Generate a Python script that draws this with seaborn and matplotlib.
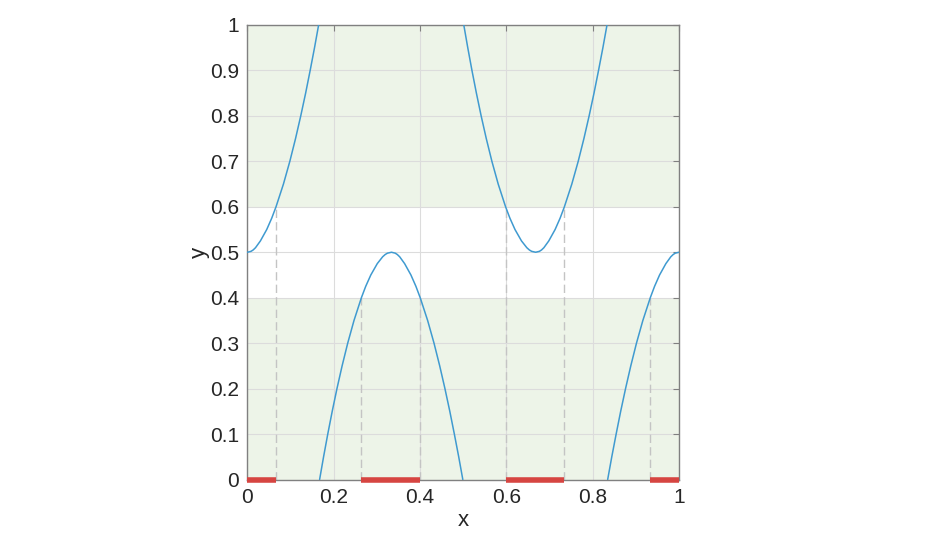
import numpy as np
import pandas as pd
import matplotlib
matplotlib.use("Agg")
import matplotlib.pyplot as plt
import seaborn as sns

# Curve values, one list per branch
seg1_x = [0.0, 0.0086, 0.0135, 0.0190, 0.0304, 0.0450, 0.0566, 0.0665, 0.0837, 0.0985,
          0.1117, 0.1238, 0.1351, 0.1456, 0.1557, 0.1652]
seg1_y = [0.5, 0.502, 0.505, 0.51, 0.525, 0.55, 0.575, 0.6, 0.65, 0.7,
          0.75, 0.8, 0.85, 0.9, 0.95, 1.0]
seg2_x = [0.1675, 0.1767, 0.1864, 0.1967, 0.2077, 0.2196, 0.2326, 0.2472, 0.2643, 0.2743,
          0.2861, 0.3011, 0.3135, 0.3194, 0.3247, 0.334,
          0.3426, 0.3475, 0.3530, 0.3644, 0.3790, 0.3906, 0.4005, 0.4177, 0.4325, 0.4457,
          0.4578, 0.4691, 0.4796, 0.4897, 0.4992]
seg2_y = [0.0, 0.05, 0.1, 0.15, 0.2, 0.25, 0.3, 0.35, 0.4, 0.425,
          0.45, 0.475, 0.49, 0.495, 0.498, 0.5,
          0.498, 0.495, 0.49, 0.475, 0.45, 0.425, 0.4, 0.35, 0.3, 0.25,
          0.2, 0.15, 0.1, 0.05, 0.0]
seg3_x = [0.5015, 0.5107, 0.5204, 0.5307, 0.5417, 0.5536, 0.5666, 0.5812, 0.5983, 0.6083,
          0.6201, 0.6351, 0.6475, 0.6534, 0.6587, 0.668,
          0.6766, 0.6815, 0.6870, 0.6984, 0.7130, 0.7246, 0.7345, 0.7517, 0.7665, 0.7797,
          0.7918, 0.8031, 0.8136, 0.8237, 0.8332]
seg3_y = [1.0, 0.95, 0.9, 0.85, 0.8, 0.75, 0.7, 0.65, 0.6, 0.575,
          0.55, 0.525, 0.51, 0.505, 0.502, 0.5,
          0.502, 0.505, 0.51, 0.525, 0.55, 0.575, 0.6, 0.65, 0.7, 0.75,
          0.8, 0.85, 0.9, 0.95, 1.0]
seg4_x = [0.8348, 0.8443, 0.8544, 0.8649, 0.8762, 0.8883, 0.9015, 0.9163, 0.9335, 0.9434,
          0.9550, 0.9696, 0.9810, 0.9865, 0.9914, 1.0]
seg4_y = [0.0, 0.05, 0.1, 0.15, 0.2, 0.25, 0.3, 0.35, 0.4, 0.425,
          0.45, 0.475, 0.49, 0.495, 0.498, 0.5]

# Green target bands (y ranges)
band_low = [0.0, 0.6]
band_high = [0.4, 1.0]

# Crossing points (dashed guides)
cross_x = [0.0665, 0.2643, 0.4005, 0.5983, 0.7345, 0.9335]
cross_y = [0.6, 0.4, 0.4, 0.6, 0.6, 0.4]

# Red intervals on x axis
red_start = [0.0, 0.2643, 0.5983, 0.9335]
red_end = [0.0665, 0.4005, 0.7345, 1.0]

x_ticks = [0, 0.2, 0.4, 0.6, 0.8, 1.0]
x_tick_labels = ["0", "0.2", "0.4", "0.6", "0.8", "1"]
y_ticks = [0, 0.1, 0.2, 0.3, 0.4, 0.5, 0.6, 0.7, 0.8, 0.9, 1.0]
y_tick_labels = ["0", "0.1", "0.2", "0.3", "0.4", "0.5", "0.6", "0.7", "0.8", "0.9", "1"]

sns.set_theme(style="white")
plt.rcParams['font.family'] = ['Liberation Sans', 'DejaVu Sans']

fig = plt.figure(figsize=(9.47, 5.33), dpi=100)
ax = fig.add_axes([247.3 / 947, 1 - 479.5 / 533, (679 - 247.3) / 947, (479.5 - 25) / 533])

for lo, hi in zip(band_low, band_high):
    ax.axhspan(lo, hi, color='#edf4e8', zorder=0, lw=0)

ax.set_xticks(x_ticks)
ax.set_xticklabels(x_tick_labels)
ax.set_yticks(y_ticks)
ax.set_yticklabels(y_tick_labels)
ax.grid(True, color='#dcdcdc', lw=0.8, zorder=1)
ax.set_axisbelow(True)

ax.vlines(cross_x, 0, cross_y, colors='#c4c4c4', linestyles=(0, (6, 3)), lw=1.0, zorder=2)

segs = []
for i, (xs, ys) in enumerate([(seg1_x, seg1_y), (seg2_x, seg2_y), (seg3_x, seg3_y), (seg4_x, seg4_y)]):
    segs.append(pd.DataFrame({'x': xs, 'y': ys, 'seg': i}))
df = pd.concat(segs, ignore_index=True)
sns.lineplot(data=df, x='x', y='y', units='seg', estimator=None, color='#3f9ad0',
             lw=1.1, ax=ax, zorder=3, sort=False)

ax.hlines([0] * len(red_start), red_start, red_end, colors='#d64541', lw=4, zorder=4,
          clip_on=False)

ax.set_xlim(0, 1)
ax.set_ylim(0, 1)
ax.set_xlabel('x', fontsize=16, color='#262626', labelpad=2)
ax.set_ylabel('y', fontsize=16, color='#262626', labelpad=0)
ax.tick_params(axis='both', labelsize=15, colors='#262626', direction='in', length=4,
               width=0.8, pad=6, top=True, right=True)
ax.tick_params(axis='both', color='#808080')
for s in ax.spines.values():
    s.set_color('#808080')
    s.set_linewidth(1.0)
    s.set_visible(True)

fig.savefig('out.png', dpi=100)
